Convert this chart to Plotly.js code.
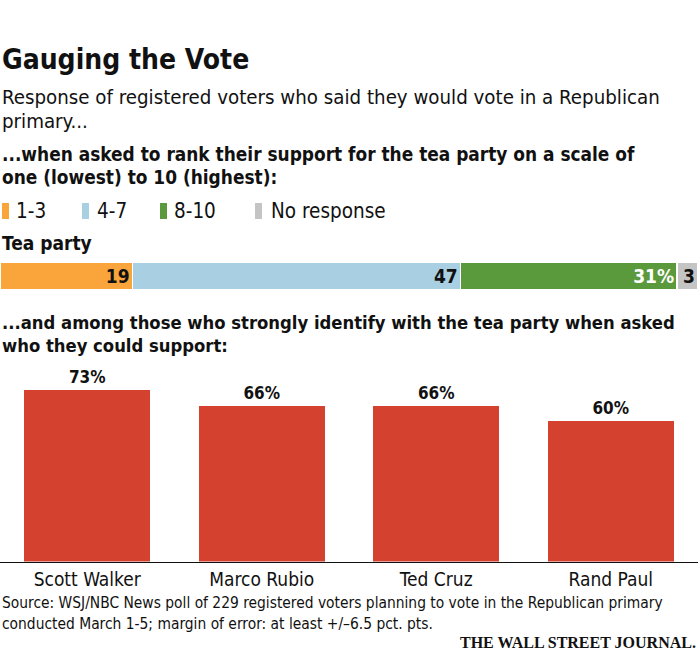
<!DOCTYPE html>
<html>
<head>
<meta charset="utf-8">
<script src="https://cdn.plot.ly/plotly-3.0.1.min.js"></script>
<style>
  html, body { margin: 0; padding: 0; background: #fff; }
  #chart { width: 700px; height: 653px; }
</style>
</head>
<body>
<div id="chart"></div>
<script>
// data ------------------------------------------------------------------------
var scaleGroups = ["1-3", "4-7", "8-10", "No response"];
var teaPartyShares = [19, 47, 31, 3];
var teaPartyLabels = ["19", "47", "31%", "3"];
var groupColors = ["#f9a53b", "#a8d0e2", "#5b9a3c", "#c4c4c4"];
var groupTextColors = ["#111", "#111", "#fff", "#111"];

var candidates = ["Scott Walker", "Marco Rubio", "Ted Cruz", "Rand Paul"];
var supportShares = [73, 66, 66, 60];

// layout helpers (page is 700 x 653, no margins) ------------------------------
var W = 700, H = 653;
function px(x) { return x / W; }
function py(y) { return 1 - y / H; }

var FONT = "'Liberation Sans Narrow', 'DejaVu Sans Condensed', 'Arial Narrow', sans-serif";

// traces ----------------------------------------------------------------------
var data = [];

// stacked tea party bar
for (let i = 0; i < scaleGroups.length; i++) {
	data.push({
		type: "bar",
		orientation: "h",
		name: scaleGroups[i],
		y: ["Tea party"],
		x: [teaPartyShares[i]],
		width: 1,
		text: [teaPartyLabels[i]],
		textposition: "inside",
		insidetextanchor: "end",
		constraintext: "none",
		textfont: { family: FONT, size: 19, weight: 700, color: groupTextColors[i] },
		marker: { color: groupColors[i], line: { color: "#fff", width: 1.5 } },
		xaxis: "x",
		yaxis: "y",
		hoverinfo: "none",
		showlegend: false,
	});
}

// candidate support bars
data.push({
	type: "bar",
	x: candidates,
	y: supportShares,
	text: supportShares.map((v) => v + "%"),
	textposition: "outside",
	cliponaxis: false,
	textfont: { family: FONT, size: 17, weight: 700, color: "#111" },
	marker: { color: "#d4412f" },
	xaxis: "x2",
	yaxis: "y2",
	hoverinfo: "none",
	showlegend: false,
});

// text blocks -----------------------------------------------------------------
function note(text, x, y, size, opts) {
	opts = opts || {};
	return {
		text: text,
		xref: "paper",
		yref: "paper",
		x: px(x),
		y: py(y),
		xanchor: opts.xanchor || "left",
		yanchor: "middle",
		showarrow: false,
		align: opts.xanchor || "left",
		font: {
			family: opts.family || FONT,
			size: size,
			weight: opts.weight || 400,
			color: opts.color || "#111",
		},
	};
}

var annotations = [
	note("Gauging the Vote", 0, 59, 28, { weight: 700 }),
	note("Response of registered voters who said they would vote in a Republican", 0, 97, 20.3),
	note("primary...", 0, 121, 20.3),
	note("...when asked to rank their support for the tea party on a scale of", 0, 154, 18.9, { weight: 700 }),
	note("one (lowest) to 10 (highest):", 0, 177, 18.9, { weight: 700 }),
	note("Tea party", 0, 243, 19, { weight: 700 }),
	note("...and among those who strongly identify with the tea party when asked", 0, 322, 18.3, { weight: 700 }),
	note("who they could support:", 0, 345, 18.3, { weight: 700 }),
	note("Source: WSJ/NBC News poll of 229 registered voters planning to vote in the Republican primary", 0, 603, 15.4),
	note("conducted March 1-5; margin of error: at least +/\u20136.5 pct. pts.", 0, 624, 15.4),
	note("THE WALL STREET JOURNAL.", 698, 642, 16, {
		xanchor: "right",
		weight: 700,
		family: "'Liberation Serif', 'DejaVu Serif', serif",
	}),
];

// legend: swatch + label
var legendSwatchX = [2, 82, 160, 255];
var legendTextX = [14, 95, 172, 269];
var shapes = [];
for (let i = 0; i < scaleGroups.length; i++) {
	shapes.push({
		type: "rect",
		xref: "paper",
		yref: "paper",
		x0: px(legendSwatchX[i]),
		x1: px(legendSwatchX[i] + 7),
		y0: py(219),
		y1: py(203),
		fillcolor: groupColors[i],
		line: { width: 0 },
	});
	annotations.push(note(scaleGroups[i], legendTextX[i], 211, 20.5));
}

var layout = {
	width: W,
	height: H,
	margin: { l: 0, r: 0, t: 0, b: 0 },
	paper_bgcolor: "#fff",
	plot_bgcolor: "#fff",
	barmode: "stack",
	bargap: 0.28,
	font: { family: FONT, color: "#111" },
	xaxis: {
		domain: [0, px(698)],
		range: [0, 100],
		visible: false,
		fixedrange: true,
	},
	yaxis: {
		domain: [py(290), py(262)],
		type: "category",
		visible: false,
		fixedrange: true,
	},
	xaxis2: {
		domain: [0, px(698)],
		anchor: "y2",
		showline: true,
		linecolor: "#111",
		linewidth: 1.5,
		ticks: "",
		showgrid: false,
		zeroline: false,
		tickfont: { family: FONT, size: 19, color: "#111" },
		ticklabelstandoff: 0,
		fixedrange: true,
	},
	yaxis2: {
		domain: [py(561.5), py(373.5)],
		anchor: "x2",
		range: [0, 80],
		visible: false,
		fixedrange: true,
	},
	annotations: annotations,
	shapes: shapes,
};

Plotly.newPlot("chart", data, layout, { displayModeBar: false, staticPlot: true });
</script>
</body>
</html>
